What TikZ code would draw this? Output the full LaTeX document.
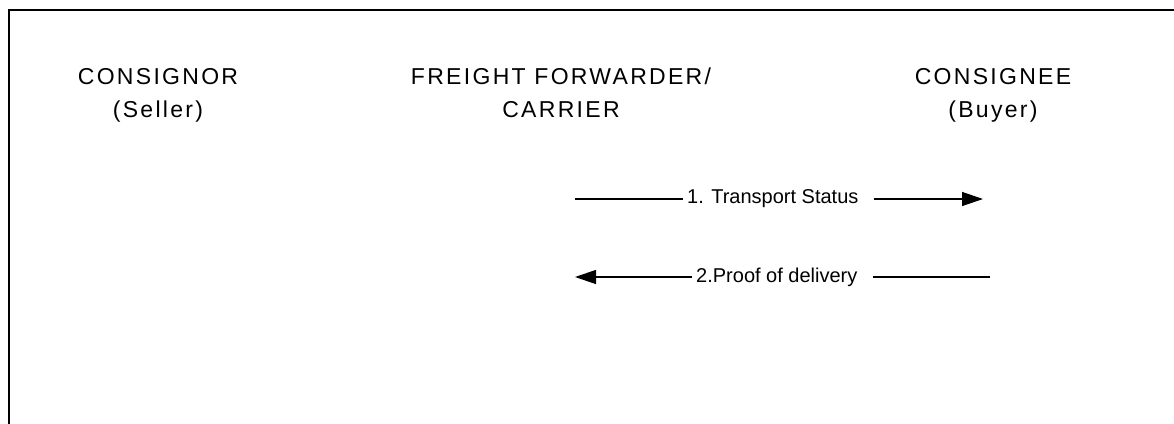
\documentclass[tikz,border=0pt]{standalone}
\usepackage{fontspec}
\setmainfont{Liberation Sans}
\usetikzlibrary{arrows.meta,positioning}

\begin{document}
\begin{tikzpicture}[x=1pt, y=-1pt,
    party/.style={align=center, anchor=north, inner sep=0pt,
        font=\fontsize{23}{33}\selectfont\addfontfeature{LetterSpace=10}},
    msg/.style={anchor=west, inner xsep=4pt, inner ysep=0pt,
        font=\fontsize{20}{24}\selectfont},
    link/.style={line width=1.3pt},
    arr/.style={link, -{Triangle[length=21pt,width=14pt]}}]
        \useasboundingbox (0,0) rectangle (1174,423);
        % Frame
        \draw[line width=2.6pt] (1190,10) -| (9,440);

        % Define parties
        \node[party] (Seller) at (158,68) {CONSIGNOR\\(Seller)};
        \node[party] (Carrier) at (561,68) {FREIGHT FORWARDER/\\CARRIER};
        \node[party] (Buyer) at (993,68) {CONSIGNEE\\(Buyer)};

        % Define messages
        \coordinate (StatusFrom) at (575,199);
        \node[msg] (Status) at (683,199) {1. Transport Status};
        \coordinate (StatusTo) at (983,199);
        \coordinate (ProofFrom) at (990,277);
        \node[msg] (Proof) at (692,277) {2.Proof of delivery};
        \coordinate (ProofTo) at (575,277);

        % Define arrows
        \draw[link] (StatusFrom) -- (Status.west);
        \draw[arr] ([xshift=11pt]Status.east) -- (StatusTo);
        \draw[link] (ProofFrom) -- ([xshift=11pt]Proof.east);
        \draw[arr] (Proof.west) -- (ProofTo);
    \end{tikzpicture}
\end{document}
